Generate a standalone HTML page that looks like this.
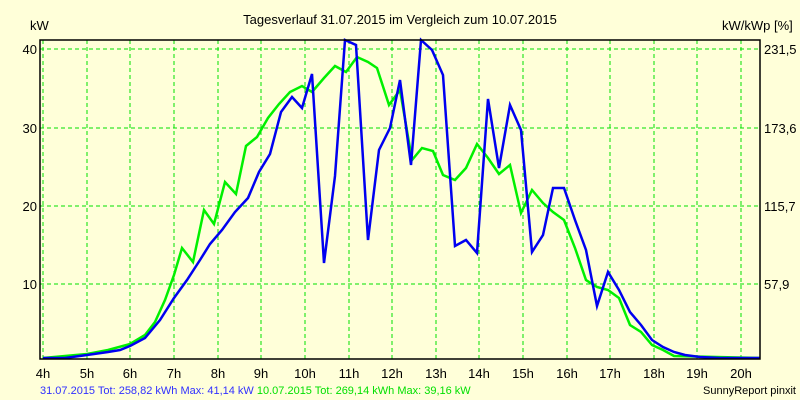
<!DOCTYPE html>
<html><head><meta charset="utf-8"><style>
body{margin:0;background:#ffffd9;}
svg{display:block;font-family:"Liberation Sans",sans-serif;}
</style></head><body>
<svg width="800" height="400" viewBox="0 0 800 400">
<rect width="800" height="400" fill="#ffffd9"/>
<text x="400" y="24" font-size="13" text-anchor="middle" fill="#000">Tagesverlauf 31.07.2015 im Vergleich zum 10.07.2015</text>
<text x="30" y="30" font-size="13" fill="#000">kW</text>
<text x="722" y="30" font-size="13" fill="#000">kW/kWp [%]</text>
<g stroke="#00e000" stroke-width="1" stroke-dasharray="4,3" fill="none">
<line x1="40" y1="49" x2="760" y2="49"/><line x1="40" y1="128" x2="760" y2="128"/><line x1="40" y1="206" x2="760" y2="206"/><line x1="40" y1="284" x2="760" y2="284"/>
<line x1="43" y1="40" x2="43" y2="359"/><line x1="87" y1="40" x2="87" y2="359"/><line x1="130" y1="40" x2="130" y2="359"/><line x1="174" y1="40" x2="174" y2="359"/><line x1="218" y1="40" x2="218" y2="359"/><line x1="261" y1="40" x2="261" y2="359"/><line x1="305" y1="40" x2="305" y2="359"/><line x1="349" y1="40" x2="349" y2="359"/><line x1="392" y1="40" x2="392" y2="359"/><line x1="436" y1="40" x2="436" y2="359"/><line x1="479" y1="40" x2="479" y2="359"/><line x1="523" y1="40" x2="523" y2="359"/><line x1="567" y1="40" x2="567" y2="359"/><line x1="610" y1="40" x2="610" y2="359"/><line x1="654" y1="40" x2="654" y2="359"/><line x1="697" y1="40" x2="697" y2="359"/><line x1="741" y1="40" x2="741" y2="359"/>
</g>
<polyline fill="none" stroke="#00f000" stroke-width="2.5" points="43,358 87,354 108,350 130,344 145,335 155,322 165,300 174,275 182,248 193,262 204,210 214,224 225,182 236,194 246,146 257,137 268,118 279,104 290,92 302,86 312,92 324,78 335,66 346,72 357,57 368,62 377,68 389,105 400,90 412,160 422,148 433,151 443,175 455,180 466,168 477,144 488,158 499,174 510,165 521,213 532,190 543,203 553,212 564,220 575,248 586,280 597,287 608,290 619,298 630,325 641,332 652,345 663,350 674,356 760,358"/>
<polyline fill="none" stroke="#0000f0" stroke-width="2.5" points="43,358 65,358 87,355 108,352 120,350 130,346 145,338 160,320 174,298 187,280 200,260 210,244 222,230 235,212 248,198 259,172 270,154 281,112 292,97 302,108 312,74 324,263 335,176 345,40 356,45 368,240 379,150 390,128 400,80 411,165 421,40 432,50 443,75 455,246 466,240 477,253 488,99 499,168 510,105 521,130 532,252 543,235 553,188 564,188 575,220 586,250 597,306 608,272 619,290 630,312 641,325 652,340 663,347 674,352 685,355 700,357 720,358 760,358"/>
<rect x="40" y="40" width="720" height="319" fill="none" stroke="#000" stroke-width="1.5"/>
<g font-size="13" fill="#000" text-anchor="end">
<text x="37" y="54">40</text><text x="37" y="133">30</text><text x="37" y="211">20</text><text x="37" y="289">10</text>
</g>
<g font-size="13" fill="#000">
<text x="764" y="54">231,5</text><text x="764" y="133">173,6</text><text x="764" y="211">115,7</text><text x="764" y="289">57,9</text>
</g>
<g font-size="13" fill="#000" text-anchor="middle">
<text x="43" y="378">4h</text><text x="87" y="378">5h</text><text x="130" y="378">6h</text><text x="174" y="378">7h</text><text x="218" y="378">8h</text><text x="261" y="378">9h</text><text x="305" y="378">10h</text><text x="349" y="378">11h</text><text x="392" y="378">12h</text><text x="436" y="378">13h</text><text x="479" y="378">14h</text><text x="523" y="378">15h</text><text x="567" y="378">16h</text><text x="610" y="378">17h</text><text x="654" y="378">18h</text><text x="697" y="378">19h</text><text x="741" y="378">20h</text>
</g>
<text x="40" y="394" font-size="11" fill="#3030ff">31.07.2015 Tot: 258,82 kWh Max: 41,14 kW <tspan fill="#00e000">10.07.2015 Tot: 269,14 kWh Max: 39,16 kW</tspan></text>
<text x="796" y="394" font-size="11" fill="#000" text-anchor="end">SunnyReport pinxit</text>
</svg>
</body></html>
